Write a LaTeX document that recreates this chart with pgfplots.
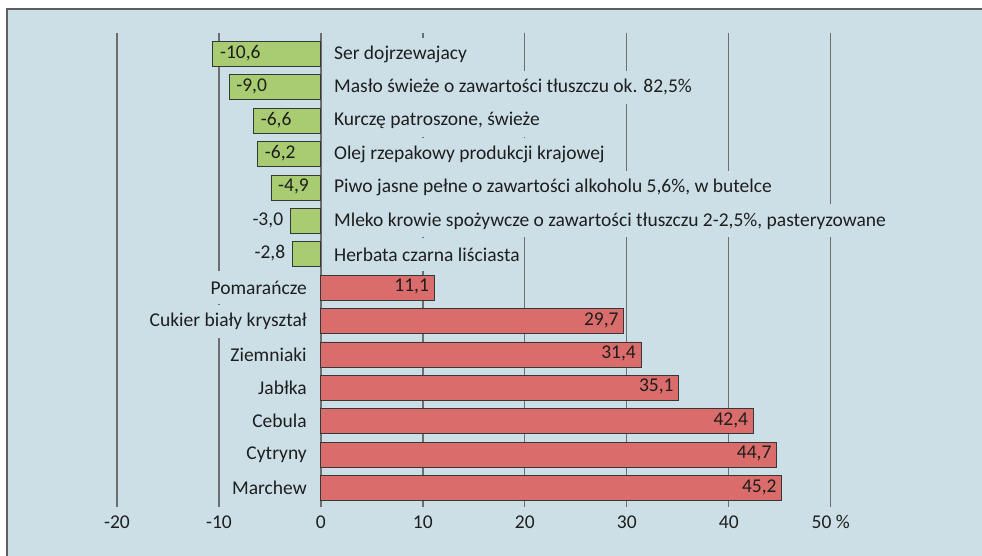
\documentclass[border=0pt]{standalone}
\usepackage{fontspec}
\setmainfont{Carlito}
\usepackage{pgfplots}
\usepackage{pgfplotstable}
\pgfplotsset{compat=1.18}
\definecolor{bg}{RGB}{204,223,230}
\definecolor{grn}{RGB}{169,204,114}
\definecolor{rd}{RGB}{218,108,108}
\definecolor{bd}{RGB}{55,55,55}
\definecolor{grd}{RGB}{110,110,110}
\definecolor{txt}{RGB}{30,30,30}

\pgfplotstableread[col sep=semicolon]{
r;v;lab;name
1;-10.6;-10,6;Ser dojrzewajacy
2;-9.0;-9,0;Masło świeże o zawartości tłuszczu ok. 82,5\%
3;-6.6;-6,6;Kurczę patroszone, świeże
4;-6.2;-6,2;Olej rzepakowy produkcji krajowej
5;-4.9;-4,9;Piwo jasne pełne o zawartości alkoholu 5,6\%, w butelce
}\neginside
\pgfplotstableread[col sep=semicolon]{
r;v;lab;name
6;-3.0;-3,0;Mleko krowie spożywcze o zawartości tłuszczu 2-2,5\%, pasteryzowane
7;-2.8;-2,8;Herbata czarna liściasta
}\negoutside
\pgfplotstableread[col sep=semicolon]{
r;v;lab;name
8;11.1;11,1;Pomarańcze
9;29.7;29,7;Cukier biały kryształ
10;31.4;31,4;Ziemniaki
11;35.1;35,1;Jabłka
12;42.4;42,4;Cebula
13;44.7;44,7;Cytryny
14;45.2;45,2;Marchew
}\posdata

\newcommand{\lblfont}{\fontsize{19.5}{21}\selectfont}

\begin{document}
\begin{tikzpicture}[x=1pt,y=1pt]
\useasboundingbox (0,0) rectangle (982,556);
\fill[bg] (7,0) rectangle (982,547);
\draw[bd!80, line width=1.8pt] (7,0) -- (7,547) -- (982,547);
\begin{axis}[
  at={(117pt,523pt)}, anchor=north west,
  scale only axis, width=713.7pt, height=474pt,
  xmin=-20, xmax=50, ymin=0.37, ymax=14.57,
  y dir=reverse, clip=false,
  axis line style={draw=none},
  tick style={draw=none},
  major tick length=0pt,
  ytick=\empty,
  xtick={-20,-10,0,10,20,30,40,50},
  xticklabels={-20,-10,0,10,20,30,40,50 \%},
  xticklabel style={font=\lblfont, text=txt, yshift=-5pt},
  /pgf/number format/assume math mode=true,
  xmajorgrids,
  major grid style={grd, line width=1.3pt},
  extra x ticks={0}, extra x tick labels={},
  extra x tick style={grid style={bd, line width=1.4pt}},
]
% bars
\addplot[xbar, bar shift=0pt, bar width=25pt, fill=grn, draw=bd, line width=0.9pt] table[x=v,y=r]{\neginside};
\addplot[xbar, bar shift=0pt, bar width=25pt, fill=grn, draw=bd, line width=0.9pt] table[x=v,y=r]{\negoutside};
\addplot[xbar, bar shift=0pt, bar width=25pt, fill=rd, draw=bd, line width=0.9pt] table[x=v,y=r]{\posdata};
% value labels
\addplot[draw=none, point meta=explicit symbolic, nodes near coords,
  nodes near coords style={anchor=west, xshift=4pt, yshift=1pt, inner sep=3pt, text=txt, font=\lblfont}]
  table[x=v,y=r,meta=lab]{\neginside};
\addplot[draw=none, point meta=explicit symbolic, nodes near coords,
  nodes near coords style={anchor=east, xshift=-4pt, yshift=1pt, inner sep=3pt, text=txt, font=\lblfont}]
  table[x=v,y=r,meta=lab]{\negoutside};
\addplot[draw=none, point meta=explicit symbolic, nodes near coords,
  nodes near coords style={anchor=east, xshift=-2pt, yshift=1pt, inner sep=3pt, text=txt, font=\lblfont}]
  table[x=v,y=r,meta=lab]{\posdata};
% category names
\addplot[draw=none, point meta=explicit symbolic, nodes near coords,
  nodes near coords style={anchor=west, xshift=10pt, inner sep=3pt, minimum height=33pt, fill=bg, text=txt, font=\lblfont}]
  table[x expr=0,y=r,meta=name]{\neginside};
\addplot[draw=none, point meta=explicit symbolic, nodes near coords,
  nodes near coords style={anchor=west, xshift=10pt, inner sep=3pt, minimum height=33pt, fill=bg, text=txt, font=\lblfont}]
  table[x expr=0,y=r,meta=name]{\negoutside};
\addplot[draw=none, point meta=explicit symbolic, nodes near coords,
  nodes near coords style={anchor=east, xshift=-11pt, inner sep=3pt, minimum height=33pt, fill=bg, text=txt, font=\lblfont}]
  table[x expr=0,y=r,meta=name]{\posdata};
\end{axis}
\end{tikzpicture}
\end{document}
